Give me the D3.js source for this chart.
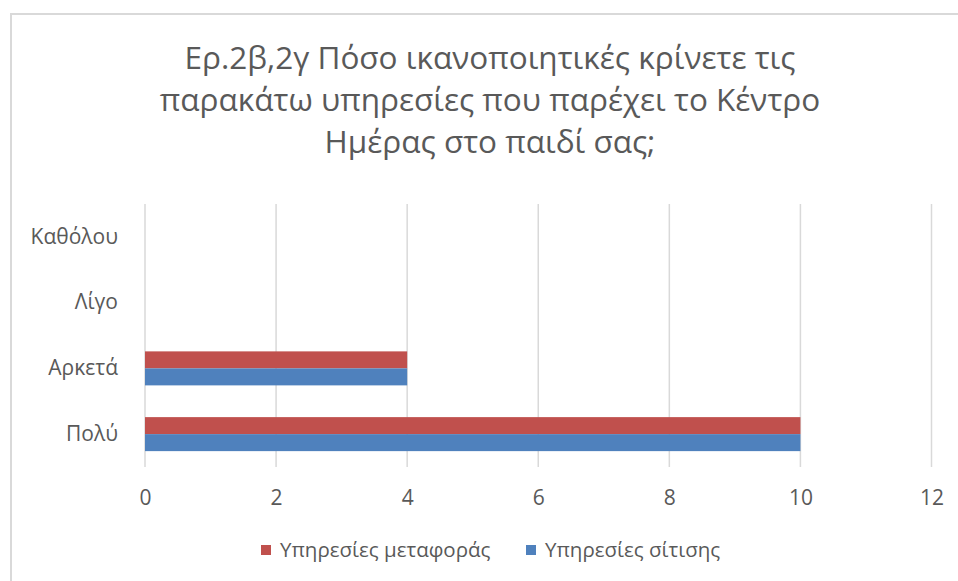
<!DOCTYPE html>
<html>
<head>
<meta charset="utf-8">
<script src="https://cdn.jsdelivr.net/npm/d3@7"></script>
<style>
  html, body { margin: 0; padding: 0; background: #fff; }
  svg { display: block; }
  text { font-family: "Open Sans", "Noto Sans", sans-serif; fill: #595959; }
</style>
</head>
<body>
<svg id="chart" width="958" height="581"></svg>
<script>
// ---- data ----
const titleLines = [
  "Ερ.2β,2γ Πόσο ικανοποιητικές κρίνετε τις",
  "παρακάτω υπηρεσίες που παρέχει το Κέντρο",
  "Ημέρας στο παιδί σας;"
];
const categories = ["Καθόλου", "Λίγο", "Αρκετά", "Πολύ"];
const seriesNames = ["Υπηρεσίες μεταφοράς", "Υπηρεσίες σίτισης"];
const seriesColors = ["#C0504D", "#4F81BD"];
const metaforaValues = [0, 0, 4, 10];
const sitisiValues = [0, 0, 4, 10];
const xTicks = [0, 2, 4, 6, 8, 10, 12];

const seriesValues = [metaforaValues, sitisiValues];

const svg = d3.select("#chart");

// chart frame
svg.append("rect")
  .attr("x", 11).attr("y", 14)
  .attr("width", 1000).attr("height", 700)
  .attr("fill", "#fff")
  .attr("stroke", "#D9D9D9").attr("stroke-width", 2);

// title
svg.append("g").selectAll("text")
  .data(titleLines)
  .join("text")
  .attr("x", 490)
  .attr("y", (d, i) => 68.5 + i * 42)
  .attr("text-anchor", "middle")
  .attr("font-size", 31.5)
  .text(d => d);

// scales
const x = d3.scaleLinear().domain([0, 12]).range([145, 931.5]);
const y = d3.scaleBand().domain(categories).range([204, 467]).padding(0);
const y1 = d3.scaleBand().domain(seriesNames).range([0, y.bandwidth()])
  .paddingInner(0).paddingOuter(0.934);

// gridlines
svg.append("g").selectAll("line")
  .data(xTicks)
  .join("line")
  .attr("x1", d => x(d)).attr("x2", d => x(d))
  .attr("y1", 204).attr("y2", 467)
  .attr("stroke", "#D9D9D9").attr("stroke-width", 1.5);

// bars
const rows = [];
categories.forEach((c, ci) => {
  seriesNames.forEach((s, si) => {
    rows.push({ cat: c, series: s, value: seriesValues[si][ci], color: seriesColors[si] });
  });
});
svg.append("g").selectAll("rect")
  .data(rows.filter(d => d.value > 0))
  .join("rect")
  .attr("x", x(0))
  .attr("y", d => y(d.cat) + y1(d.series))
  .attr("width", d => x(d.value) - x(0))
  .attr("height", y1.bandwidth())
  .attr("fill", d => d.color);

// x axis
const xAxis = d3.axisBottom(x).tickValues(xTicks).tickSize(0).tickPadding(0);
const gx = svg.append("g").attr("transform", "translate(0,490)").call(xAxis);
gx.select(".domain").remove();
gx.selectAll("text").attr("font-size", 21).attr("fill", "#595959")
  .attr("font-family", "Open Sans, sans-serif");

// y axis
const yAxis = d3.axisLeft(y).tickSize(0).tickPadding(0);
const gy = svg.append("g").attr("transform", "translate(118,0)").call(yAxis);
gy.select(".domain").remove();
gy.selectAll("text").attr("font-size", 21).attr("fill", "#595959")
  .attr("font-family", "Open Sans, sans-serif");

// legend
const legendX = [261, 526];
const lg = svg.append("g").selectAll("g")
  .data(seriesNames)
  .join("g")
  .attr("transform", (d, i) => `translate(${legendX[i]},550)`);
lg.append("rect")
  .attr("x", 0).attr("y", -5)
  .attr("width", 10).attr("height", 10)
  .attr("fill", (d, i) => seriesColors[i]);
lg.append("text")
  .attr("x", 19).attr("y", 0)
  .attr("dy", "0.35em")
  .attr("font-size", 20.5)
  .text(d => d);
</script>
</body>
</html>
